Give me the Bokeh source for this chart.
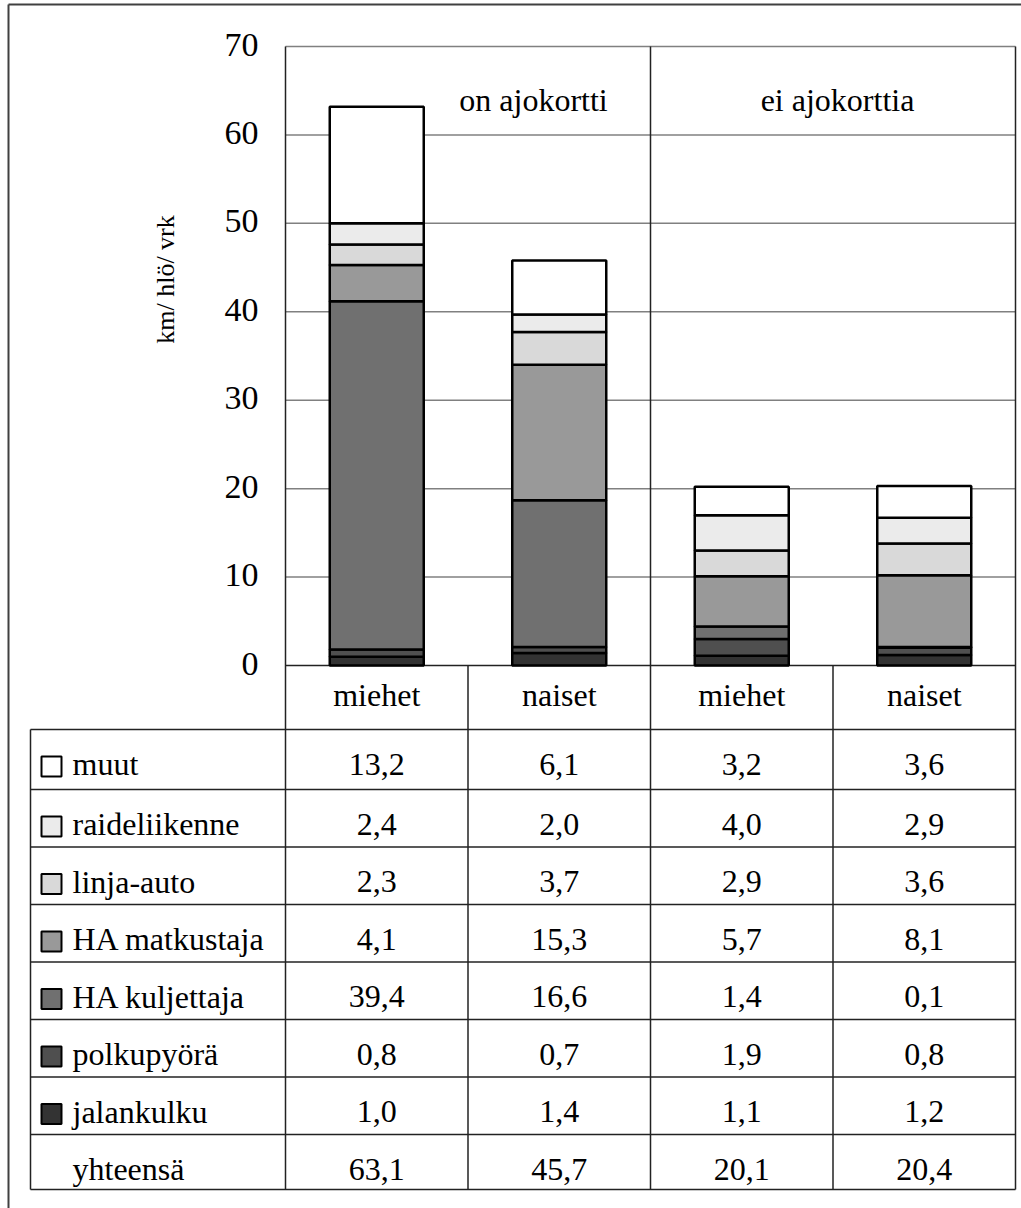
from bokeh.plotting import figure
from bokeh.models import ColumnDataSource, Range1d
from bokeh.core.properties import value
from bokeh.embed import file_html
from bokeh.resources import INLINE

# ---------------- data ----------------
categories = ["miehet", "naiset", "miehet", "naiset"]
groups = ["on ajokortti", "ei ajokorttia"]
modes = ["jalankulku", "polkupyörä", "HA kuljettaja", "HA matkustaja",
         "linja-auto", "raideliikenne", "muut"]          # bottom -> top
jalankulku = [1.0, 1.4, 1.1, 1.2]
polkupyora = [0.8, 0.7, 1.9, 0.8]
ha_kuljettaja = [39.4, 16.6, 1.4, 0.1]
ha_matkustaja = [4.1, 15.3, 5.7, 8.1]
linja_auto = [2.3, 3.7, 2.9, 3.6]
raideliikenne = [2.4, 2.0, 4.0, 2.9]
muut = [13.2, 6.1, 3.2, 3.6]
yhteensa = [63.1, 45.7, 20.1, 20.4]
total_label = "yhteensä"
y_ticks = [0, 10, 20, 30, 40, 50, 60, 70]
y_label = "km/ hlö/ vrk"

series = [jalankulku, polkupyora, ha_kuljettaja, ha_matkustaja,
          linja_auto, raideliikenne, muut]
mode_colors = ["#333333", "#4f4f4f", "#707070", "#999999",
               "#d9d9d9", "#ebebeb", "#ffffff"]

FONT = value("Liberation Serif")
FS = value("32px")

# ---------------- layout (page pixels) ----------------
W, H = 1021, 1208
AX_L, AX_R = 285, 1015
COL_W = (AX_R - AX_L) / 4.0
Y0, Y70 = 665, 46
SY = (Y0 - Y70) / 70.0
TAB_L = 30
HEADER_BOTTOM = 729
ROW_LINES = [729, 789, 846.5, 904, 961.5, 1019, 1076.5, 1134, 1189]
TAB_BOTTOM = ROW_LINES[-1]


def dx(px):
    return (px - AX_L) / COL_W


def dy(py):
    return (Y0 - py) / SY


p = figure(width=W, height=H,
           x_range=Range1d(dx(0), dx(W)),
           y_range=Range1d(dy(H), dy(0)),
           output_backend="svg", toolbar_location=None,
           x_axis_location=None, y_axis_location=None, min_border=0)
p.grid.visible = False
p.outline_line_color = None
p.background_fill_color = "white"
p.border_fill_color = "white"

# outer border (left + top)
p.segment(x0=[dx(8), dx(8)], y0=[dy(4), dy(4)], x1=[dx(8), dx(1040)], y1=[dy(1300), dy(4)],
          line_color="#404040", line_width=2)

# gridlines
grid_vals = [t for t in y_ticks if t > 0]
p.segment(x0=[0] * len(grid_vals), x1=[4] * len(grid_vals), y0=grid_vals, y1=grid_vals,
          line_color="#808080", line_width=1.5)

# vertical plot/table lines
top = y_ticks[-1]
p.segment(x0=[0, 2, 4], x1=[0, 2, 4], y0=[top] * 3, y1=[dy(TAB_BOTTOM)] * 3,
          line_color="#222222", line_width=1.5)
p.segment(x0=[1, 3], x1=[1, 3], y0=[0, 0], y1=[dy(TAB_BOTTOM)] * 2,
          line_color="#222222", line_width=1.5)
p.segment(x0=[dx(TAB_L)], x1=[dx(TAB_L)], y0=[dy(HEADER_BOTTOM)], y1=[dy(TAB_BOTTOM)],
          line_color="#222222", line_width=1.5)
# horizontal table lines
p.segment(x0=[0], x1=[4], y0=[0], y1=[0], line_color="#222222", line_width=1.5)
p.segment(x0=[dx(TAB_L)] * len(ROW_LINES), x1=[4] * len(ROW_LINES),
          y0=[dy(r) for r in ROW_LINES], y1=[dy(r) for r in ROW_LINES],
          line_color="#222222", line_width=1.5)

# stacked bars
xs = [i + 0.5 for i in range(len(categories))]
src = ColumnDataSource(dict(x=xs, **{m: s for m, s in zip(modes, series)}))
p.vbar_stack(modes, x="x", width=94 / COL_W, source=src,
             fill_color=mode_colors, line_color="black", line_width=2.5)

# y tick labels
p.text(x=[dx(258)] * len(y_ticks), y=y_ticks, text=[str(t) for t in y_ticks],
       text_align="right", text_baseline="middle", text_font=FONT,
       text_font_size=value("34px"), text_color="black", y_offset=-2)

# y axis title
p.text(x=[dx(165)], y=[dy(279)], text=[y_label], angle=1.5707963, text_align="center",
       text_baseline="middle", text_font=FONT, text_font_size=value("26px"), text_color="black")

# group labels
p.text(x=[dx(533), dx(837)], y=[dy(99)] * 2, text=groups, text_align="center",
       text_baseline="middle", text_font=FONT, text_font_size=FS, text_color="black")

# header row
p.text(x=xs, y=[dy(694.5)] * 4, text=categories, text_align="center",
       text_baseline="middle", text_font=FONT, text_font_size=FS, text_color="black")


def fmt(v):
    return ("%.1f" % v).replace(".", ",")


# table rows (top -> bottom)
row_names = list(reversed(modes)) + [total_label]
row_series = list(reversed(series)) + [yhteensa]
row_colors = list(reversed(mode_colors))
cx, cy, ct = [], [], []
lx, ly, lt = [], [], []
sqx, sqy, sqc = [], [], []
for r, (name, vals) in enumerate(zip(row_names, row_series)):
    mid = ROW_LINES[r] + 34.5
    for i, v in enumerate(vals):
        cx.append(xs[i])
        cy.append(dy(mid))
        ct.append(fmt(v))
    lx.append(dx(72))
    ly.append(dy(mid))
    lt.append(name)
    if r < len(modes):
        sqx.append(dx(51))
        sqy.append(dy(ROW_LINES[r] + 37))
        sqc.append(row_colors[r])

p.rect(x=sqx, y=sqy, width=20, height=20, width_units="screen", height_units="screen",
       fill_color=sqc, line_color="black", line_width=2)
p.text(x=lx, y=ly, text=lt, text_align="left", text_baseline="middle",
       text_font=FONT, text_font_size=FS, text_color="black")
p.text(x=cx, y=cy, text=ct, text_align="center", text_baseline="middle",
       text_font=FONT, text_font_size=FS, text_color="black")

open("out.html", "w").write(file_html(p, INLINE))
